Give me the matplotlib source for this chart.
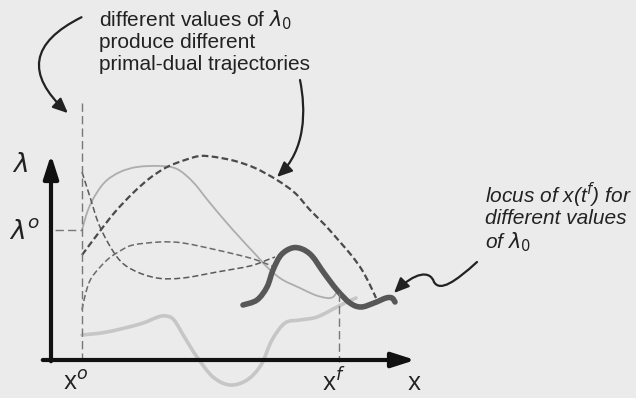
import matplotlib
matplotlib.use("Agg")
import matplotlib.pyplot as plt
from matplotlib.patches import FancyArrowPatch, PathPatch
from matplotlib.path import Path

# ---- trajectory data (x, lambda) in drawing units ----
# dark dashed arc
arc_x = [82, 100, 115, 133, 150, 167, 185, 200, 215, 235, 255, 277, 295, 310, 325, 340, 352, 362, 370, 376]
arc_y = [255, 231, 212, 193, 178, 167, 160, 156, 157, 161, 168, 180, 193, 210, 225, 242, 256, 270, 285, 298]

# light solid trajectory starting at lambda^o
solid_x = [82, 88, 96, 106, 120, 137, 160, 177, 193, 210, 233, 257, 270, 283, 300, 315, 327, 333, 337]
solid_y = [230, 210, 194, 181, 172, 167, 166, 169, 182, 203, 230, 256, 270, 280, 288, 295, 298, 297, 292]

# medium dashed trajectory falling from the top
fall_x = [82, 90, 100, 117, 133, 157, 183, 217, 250, 267, 275]
fall_y = [172, 197, 227, 257, 270, 278, 278, 272, 266, 260, 257]

# medium dashed trajectory rising from the bottom
rise_x = [82, 86, 92, 107, 120, 133, 160, 183, 217, 250, 267, 274]
rise_y = [310, 292, 277, 260, 251, 245, 242, 243, 250, 258, 264, 267]

# pale thick trajectory dipping below the x axis
pale_x = [82, 107, 140, 158, 166, 174, 185, 197, 213, 230, 247, 261, 272, 285, 300, 317, 337, 347, 356]
pale_y = [335, 332, 324, 317, 316, 320, 338, 357, 377, 385, 380, 365, 340, 323, 320, 317, 307, 302, 298]

# locus of x(t^f)
locus_x = [243, 257, 267, 273, 281, 292, 302, 312, 324, 337, 350, 361, 374, 386, 392, 395]
locus_y = [305, 300, 287, 270, 255, 248, 249, 256, 273, 290, 303, 307, 303, 298, 298, 302]

# reference positions
x_start = 82
x_final = 339
lam_start = 230


def smooth_path(xs, ys):
    """Cubic Bezier path through the given points (Catmull-Rom tangents)."""
    pts = list(zip(xs, ys))
    verts = [pts[0]]
    codes = [Path.MOVETO]
    n = len(pts)
    for i in range(n - 1):
        p0 = pts[i - 1] if i > 0 else pts[i]
        p1 = pts[i]
        p2 = pts[i + 1]
        p3 = pts[i + 2] if i + 2 < n else pts[i + 1]
        c1 = (p1[0] + (p2[0] - p0[0]) / 6.0, p1[1] + (p2[1] - p0[1]) / 6.0)
        c2 = (p2[0] - (p3[0] - p1[0]) / 6.0, p2[1] - (p3[1] - p1[1]) / 6.0)
        verts += [c1, c2, p2]
        codes += [Path.CURVE4] * 3
    return Path(verts, codes)


def draw_curve(ax, xs, ys, **kw):
    patch = PathPatch(smooth_path(xs, ys), fill=False, **kw)
    ax.add_patch(patch)


# ---- figure ----
fig = plt.figure(figsize=(6.36, 3.98), dpi=100)
bg = "#ebebeb"
fig.patch.set_facecolor(bg)
ax = fig.add_axes([0, 0, 1, 1])
ax.set_facecolor(bg)
ax.set_xlim(0, 636)
ax.set_ylim(398, 0)
ax.axis("off")

# guide lines
guide = dict(color="#777777", lw=1.0, ls=(0, (6, 3)))
ax.plot([x_start, x_start], [103, 362], **guide)
ax.plot([55, x_start], [lam_start, lam_start], **guide)
ax.plot([x_final, x_final], [293, 362], **guide)

# trajectories
draw_curve(ax, pale_x, pale_y, edgecolor="#c6c6c6", lw=2.6, capstyle="round", joinstyle="round")
draw_curve(ax, solid_x, solid_y, edgecolor="#adadad", lw=1.3, joinstyle="round")
draw_curve(ax, fall_x, fall_y, edgecolor="#5a5a5a", lw=1.1, ls=(0, (4, 2)))
draw_curve(ax, rise_x, rise_y, edgecolor="#6a6a6a", lw=1.1, ls=(0, (4, 2)))
draw_curve(ax, arc_x, arc_y, edgecolor="#4a4a4a", lw=1.6, ls=(0, (3, 1.5)))
draw_curve(ax, locus_x, locus_y, edgecolor="#575757", lw=4.0, capstyle="round", joinstyle="round")

# coordinate axes
axis_arrow = dict(arrowstyle="-|>,head_length=1.4,head_width=0.45", color="#111111", lw=3)
ax.annotate("", xy=(51, 152), xytext=(51, 364), arrowprops=axis_arrow)
ax.annotate("", xy=(418, 360), xytext=(40, 360), arrowprops=axis_arrow)

# curved annotation arrows
head = "-|>,head_length=9,head_width=4"
a1 = FancyArrowPatch((84, 16), (70, 115), connectionstyle="arc3,rad=0.75",
                     arrowstyle=head, color="#222222", lw=1.6)
ax.add_patch(a1)
verts2 = [(300, 80), (306, 110), (306, 150), (277, 177)]
a2 = FancyArrowPatch(path=Path(verts2, [Path.MOVETO, Path.CURVE4, Path.CURVE4, Path.CURVE4]),
                     arrowstyle=head, color="#222222", lw=1.6)
ax.add_patch(a2)
verts3 = [(477, 262), (455, 282), (440, 292), (434, 282),
          (430, 270), (415, 272), (394, 293)]
a3 = FancyArrowPatch(path=Path(verts3, [Path.MOVETO, Path.CURVE4, Path.CURVE4, Path.CURVE4,
                                        Path.CURVE4, Path.CURVE4, Path.CURVE4]),
                     arrowstyle=head, color="#222222", lw=1.6)
ax.add_patch(a3)

# text
txt = "#222222"
sans = ["Liberation Sans", "DejaVu Sans"]
fs = 15
ax.text(99, 20, r"different values of $\lambda_0$", fontsize=fs, color=txt, family=sans, va="center")
ax.text(99, 43, "produce different", fontsize=fs, color=txt, family=sans, va="center")
ax.text(99, 65, "primal-dual trajectories", fontsize=fs, color=txt, family=sans, va="center")

ax.text(485, 195, r"locus of x(t$^f$) for", fontsize=fs, color=txt, family=sans, style="italic", va="center")
ax.text(485, 218, "different values", fontsize=fs, color=txt, family=sans, style="italic", va="center")
ax.text(485, 242, r"of $\lambda_0$", fontsize=fs, color=txt, family=sans, style="italic", va="center")

lab = ["Open Sans", "DejaVu Sans"]
ax.text(20, 165, r"$\lambda$", fontsize=19, color=txt, ha="center", va="center")
ax.text(25, 232, r"$\lambda^o$", fontsize=19, color=txt, ha="center", va="center")
ax.text(76, 383, r"x$^o$", fontsize=18, color=txt, family=lab, ha="center", va="center")
ax.text(334, 383, r"x$^f$", fontsize=18, color=txt, family=lab, ha="center", va="center")
ax.text(414, 383, "x", fontsize=18, color=txt, family=lab, ha="center", va="center")

fig.savefig("out.png", dpi=100, facecolor=bg)
